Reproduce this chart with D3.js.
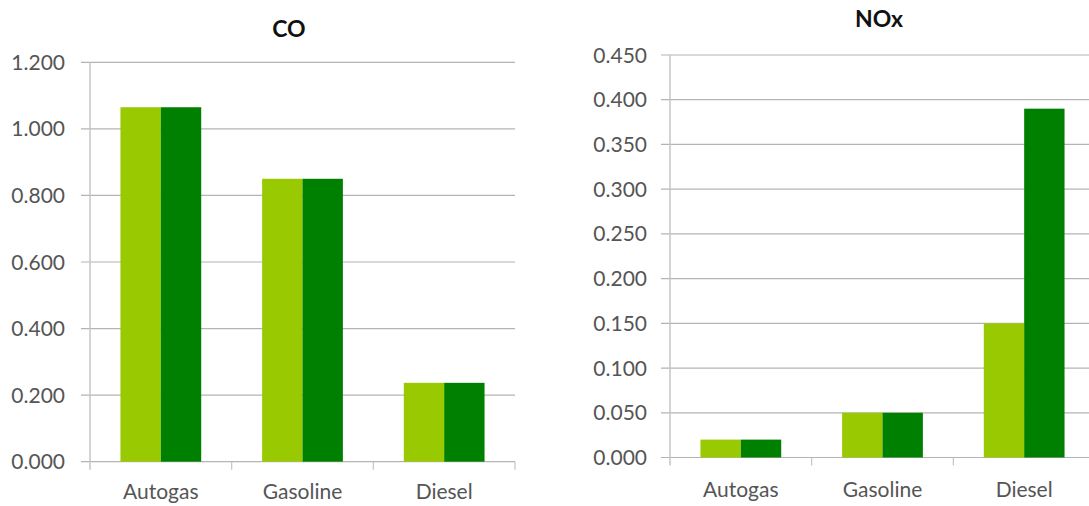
<!DOCTYPE html>
<html>
<head>
<meta charset="utf-8">
<script src="https://cdn.jsdelivr.net/npm/d3@7"></script>
<style>
  html, body { margin: 0; padding: 0; background: #fff; }
  svg { display: block; }
  text { font-family: Lato, "Open Sans", sans-serif; }
</style>
</head>
<body>
<svg id="chart" width="1089" height="506"></svg>
<script>
// Fuel types and the two series shown side by side in each group
const categories = ["Autogas", "Gasoline", "Diesel"];
const seriesNames = ["A", "B"];
const seriesColors = ["#99c900", "#008000"];

// CO emissions
const coSeriesA = [1.065, 0.850, 0.237];
const coSeriesB = [1.065, 0.850, 0.237];
const coTicks = [0, 0.2, 0.4, 0.6, 0.8, 1.0, 1.2];

// NOx emissions
const noxSeriesA = [0.020, 0.050, 0.150];
const noxSeriesB = [0.020, 0.050, 0.390];
const noxTicks = [0, 0.05, 0.10, 0.15, 0.20, 0.25, 0.30, 0.35, 0.40, 0.45];

const svg = d3.select("#chart");
const fmt = d3.format(".3f");

function drawPanel(cfg) {
  const g = svg.append("g");
  const x = d3.scaleBand().domain(categories)
    .range([cfg.left, cfg.right]).paddingInner(0.43).paddingOuter(0.215);
  const xs = d3.scaleBand().domain(seriesNames).range([0, x.bandwidth()]);
  const y = d3.scaleLinear().domain([0, d3.max(cfg.ticks)]).range([cfg.bottom, cfg.top]);

  // horizontal gridlines, starting a little left of the axis
  g.selectAll("line.grid").data(cfg.ticks).join("line")
    .attr("x1", cfg.left - 9).attr("x2", cfg.gridEnd)
    .attr("y1", d => y(d)).attr("y2", d => y(d))
    .attr("stroke", "#b4b4b4").attr("stroke-width", 1.2);

  // vertical axis line
  g.append("line")
    .attr("x1", cfg.left).attr("x2", cfg.left)
    .attr("y1", y(d3.max(cfg.ticks))).attr("y2", cfg.bottom + 8)
    .attr("stroke", "#c4c4c4").attr("stroke-width", 1.5);

  // category boundary ticks below the baseline
  const bounds = d3.range(categories.length + 1).map(i => cfg.left + i * x.step());
  g.selectAll("line.xtick").data(bounds.slice(1)).join("line")
    .attr("x1", d => d).attr("x2", d => d)
    .attr("y1", cfg.bottom).attr("y2", cfg.bottom + 8)
    .attr("stroke", "#c4c4c4").attr("stroke-width", 1.2);

  // y tick labels
  g.selectAll("text.ytick").data(cfg.ticks).join("text")
    .attr("x", cfg.labelX).attr("y", d => y(d)).attr("dy", "0.36em")
    .attr("text-anchor", "end").attr("font-size", 21).attr("fill", "#555")
    .text(d => fmt(d));

  // bars
  const rows = categories.map((c, i) => ({ c, vals: [cfg.a[i], cfg.b[i]] }));
  const grp = g.selectAll("g.cat").data(rows).join("g")
    .attr("transform", d => `translate(${x(d.c)},0)`);
  grp.selectAll("rect").data(d => d.vals.map((v, k) => ({ v, s: seriesNames[k], k })))
    .join("rect")
    .attr("x", d => xs(d.s)).attr("width", xs.bandwidth())
    .attr("y", d => y(d.v)).attr("height", d => cfg.bottom - y(d.v))
    .attr("fill", d => seriesColors[d.k]);

  // category labels
  g.selectAll("text.xlab").data(categories).join("text")
    .attr("x", d => x(d) + x.bandwidth() / 2).attr("y", cfg.xLabelY)
    .attr("text-anchor", "middle").attr("font-size", 21).attr("fill", "#555")
    .text(d => d);

  // title
  g.append("text")
    .attr("x", cfg.titleX).attr("y", cfg.titleY)
    .attr("text-anchor", "middle").attr("font-size", 23).attr("font-weight", "bold")
    .attr("fill", "#111").text(cfg.title);
}

drawPanel({
  title: "CO", titleX: 289, titleY: 37,
  a: coSeriesA, b: coSeriesB, ticks: coTicks,
  left: 90, right: 515, gridEnd: 515, top: 62.3, bottom: 461.7,
  labelX: 65, xLabelY: 499
});

drawPanel({
  title: "NOx", titleX: 879, titleY: 27,
  a: noxSeriesA, b: noxSeriesB, ticks: noxTicks,
  left: 670, right: 1095, gridEnd: 1089, top: 55, bottom: 457.5,
  labelX: 647, xLabelY: 497
});
</script>
</body>
</html>
